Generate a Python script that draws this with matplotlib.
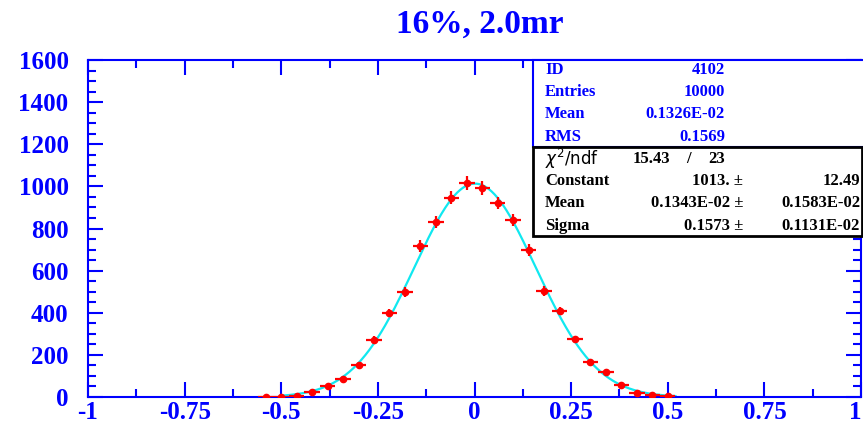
import numpy as np
import matplotlib
matplotlib.use("Agg")
import matplotlib.pyplot as plt
from matplotlib.patches import Rectangle
from matplotlib.ticker import MultipleLocator, FixedLocator

# histogram bins (centres, width 0.04) and counts
bin_centres = [-0.54, -0.50, -0.46, -0.42, -0.38, -0.34, -0.30, -0.26, -0.22,
               -0.18, -0.14, -0.10, -0.06, -0.02, 0.02, 0.06, 0.10, 0.14,
               0.18, 0.22, 0.26, 0.30, 0.34, 0.38, 0.42, 0.46, 0.50]
counts = [2, 1, 6, 26, 52, 85, 152, 271, 399,
          499, 717, 831, 945, 1016, 992, 921, 840, 698,
          503, 408, 275, 166, 119, 57, 19, 8, 3]
bin_width = 0.04

# gaussian fit parameters from the stats box
fit_const = 1013.0
fit_mean = 0.1343e-02
fit_sigma = 0.1573
fit_range = (-0.50, 0.52)

x_ticks = [-1, -0.75, -0.5, -0.25, 0, 0.25, 0.5, 0.75, 1]
x_labels = ["-1", "-0.75", "-0.5", "-0.25", "0", "0.25", "0.5", "0.75", "1"]
y_ticks = [0, 200, 400, 600, 800, 1000, 1200, 1400, 1600]

stat_rows = [("ID", "4102"), ("Entries", "10000"),
             ("Mean", "0.1326E-02"), ("RMS", "0.1569")]
fit_rows = [("Constant", "1013.", "12.49"),
            ("Mean", "0.1343E-02", "0.1583E-02"),
            ("Sigma", "0.1573", "0.1131E-02")]
chi2 = ("15.43", "23")

W, H = 863, 425
blue = "#0000ff"
serif = "Liberation Serif"

fig = plt.figure(figsize=(W / 100, H / 100), dpi=100)
ax = fig.add_axes([88 / W, 1 - 397 / H, 773 / W, 337 / H])

ax.errorbar(bin_centres, counts, xerr=bin_width / 2, yerr=np.sqrt(counts),
            fmt="o", color="red", ms=4.5, elinewidth=1.6, capsize=0, zorder=3)

xs = np.linspace(fit_range[0], fit_range[1], 400)
ax.plot(xs, fit_const * np.exp(-0.5 * ((xs - fit_mean) / fit_sigma) ** 2),
        color="#10e8f0", lw=1.6, zorder=2)

ax.set_xlim(-1, 1)
ax.set_ylim(0, 1600)
for s in ax.spines.values():
    s.set_color(blue)
    s.set_linewidth(1.5)

ax.xaxis.set_major_locator(FixedLocator(x_ticks))
ax.set_xticklabels(x_labels)
ax.xaxis.set_minor_locator(MultipleLocator(0.125))
ax.yaxis.set_major_locator(FixedLocator(y_ticks))
ax.yaxis.set_minor_locator(MultipleLocator(50))
ax.tick_params(which="both", direction="in", top=True, right=True, color=blue,
               width=1.5, labelcolor=blue)
ax.tick_params(which="major", length=11)
ax.tick_params(which="minor", length=6)
ax.tick_params(axis="x", pad=3)
ax.tick_params(axis="y", pad=14)
for lab in ax.get_xticklabels() + ax.get_yticklabels():
    lab.set_fontfamily(serif)
    lab.set_fontweight("bold")
    lab.set_fontsize(18)
# the last label sits at the right edge of the picture
ax.get_xticklabels()[-1].set_horizontalalignment("right")

fig.text(480 / W, 1 - 24 / H, "16%, 2.0mr", color=blue, fontfamily=serif,
         fontweight="bold", fontsize=24, ha="center", va="center")

# stats boxes (pixel coords converted to figure fraction)
def fx(px):
    return px / W

def fy(py):
    return 1 - py / H

fig.patches.append(Rectangle((fx(533), fy(147)), fx(340), 87 / H,
                             transform=fig.transFigure, facecolor="white",
                             edgecolor=blue, lw=1.5, zorder=5))
fig.patches.append(Rectangle((fx(533), fy(236)), fx(329), 89 / H,
                             transform=fig.transFigure, facecolor="white",
                             edgecolor="black", lw=2, zorder=6))

txt = dict(fontfamily=serif, fontweight="bold", fontsize=12, va="center",
           zorder=7)

row_y = [70, 92, 114, 137]
for (name, val), py in zip(stat_rows, row_y):
    fig.text(fx(545), fy(py), name, color=blue, **txt)
    fig.text(fx(725), fy(py), val, color=blue, ha="right", **txt)

fig.text(fx(545), fy(159), r"$\chi^2$/ndf", color="black", fontsize=12,
         va="center", zorder=7)
fig.text(fx(670), fy(159), chi2[0], color="black", ha="right", **txt)
fig.text(fx(688), fy(159), "/", color="black", ha="center", **txt)
fig.text(fx(725), fy(159), chi2[1], color="black", ha="right", **txt)

for (name, val, err), py in zip(fit_rows, [181, 203, 226]):
    fig.text(fx(545), fy(py), name, color="black", **txt)
    fig.text(fx(743), fy(py), val + " \u00b1", color="black", ha="right", **txt)
    fig.text(fx(860), fy(py), err, color="black", ha="right", **txt)

fig.savefig("out.png", dpi=100)
